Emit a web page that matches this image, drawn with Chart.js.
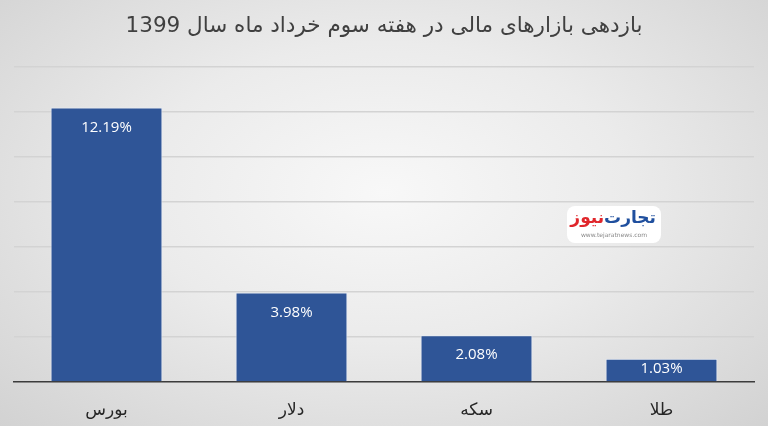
<!DOCTYPE html>
<html>
<head>
<meta charset="utf-8">
<script src="https://cdn.jsdelivr.net/npm/chart.js@4/dist/chart.umd.min.js"></script>
<style>
  html, body { margin: 0; padding: 0; }
  body {
    width: 768px; height: 426px; overflow: hidden;
    background: radial-gradient(ellipse at 50% 45%, #f8f8f8 0%, #ebebeb 45%, #d2d2d2 100%);
  }
  #wrap { width: 768px; height: 426px; }
</style>
</head>
<body>
<div id="wrap"><canvas id="myChart" width="768" height="426"></canvas></div>
<script>
// داده ها
const categories = ["بورس", "دلار", "سکه", "طلا"]
const returns = [12.19, 3.98, 2.08, 1.03]
const yTicks = [0, 2, 4, 6, 8, 10, 12, 14]
const chartTitle = "بازدهی بازارهای مالی در هفته سوم خرداد ماه سال 1399"

// برچسب روی ستون ها
const barLabels = {
  id: "barLabels",
  afterDatasetsDraw(chart) {
    const ctx = chart.ctx
    const meta = chart.getDatasetMeta(0)
    ctx.save()
    ctx.fillStyle = "#ffffff"
    ctx.font = "15px 'Open Sans'"
    ctx.textAlign = "center"
    ctx.textBaseline = "middle"
    meta.data.forEach(function (bar, i) {
      const top = bar.y
      const bottom = bar.base
      const y = Math.min(top + 20, (top + bottom) / 2 - 1)
      ctx.fillText(returns[i].toFixed(2) + "%", bar.x, y)
    })
    ctx.restore()
  }
}

// لوگو
const logo = {
  id: "logo",
  afterDraw(chart) {
    const ctx = chart.ctx
    ctx.save()
    ctx.fillStyle = "#ffffff"
    ctx.beginPath()
    ctx.roundRect(567, 206, 94, 37, 8)
    ctx.fill()
    ctx.textBaseline = "middle"
    ctx.font = "bold 17px 'DejaVu Sans'"
    ctx.textAlign = "right"
    ctx.fillStyle = "#1f4f9e"
    ctx.fillText("تجارت", 656, 219)
    const w = ctx.measureText("تجارت").width
    ctx.fillStyle = "#e0262b"
    ctx.fillText("نیوز", 656 - w, 219)
    ctx.font = "6px 'DejaVu Sans'"
    ctx.fillStyle = "#888888"
    ctx.textAlign = "center"
    ctx.fillText("www.tejaratnews.com", 614, 235)
    ctx.restore()
  }
}

const ctx = document.getElementById("myChart")
new Chart(ctx, {
  type: "bar",
  data: {
    labels: categories,
    datasets: [{
      data: returns,
      backgroundColor: "#2f5597",
      borderColor: "#e8edf5",
      borderWidth: { top: 1, left: 1, right: 1, bottom: 0 },
      categoryPercentage: 1,
      barPercentage: 0.605
    }]
  },
  options: {
    responsive: false,
    animation: false,
    layout: { padding: { left: 14, right: 14, bottom: 0 } },
    plugins: {
      legend: { display: false },
      tooltip: { enabled: false },
      title: {
        display: true,
        text: chartTitle,
        color: "#404040",
        font: { family: "'DejaVu Sans'", size: 21.5, weight: "normal" },
        padding: { top: 14, bottom: 27 }
      }
    },
    scales: {
      x: {
        grid: { display: false, drawTicks: false },
        border: { display: true, color: "#3c3c3c", width: 1.5 },
        ticks: {
          color: "#262626",
          padding: 18,
          font: { family: "'DejaVu Sans'", size: 17 }
        },
        afterFit(axis) { axis.height = 44 }
      },
      y: {
        min: 0,
        max: 14,
        afterBuildTicks(axis) {
          axis.ticks = yTicks.map(function (v) { return { value: v } })
        },
        border: { display: false },
        grid: { color: "#d3d3d3", lineWidth: 1.5, drawTicks: false },
        ticks: { display: false }
      }
    }
  },
  plugins: [barLabels, logo]
})
</script>
</body>
</html>
